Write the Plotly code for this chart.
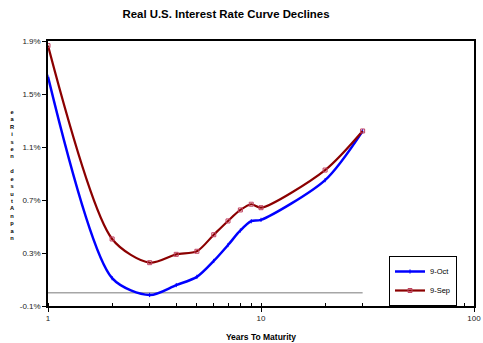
import plotly.graph_objects as go

maturities = [1, 2, 3, 4, 5, 6, 7, 8, 9, 10, 20, 30]
oct_rates = [1.63, 0.11, -0.017, 0.058, 0.12, 0.24, 0.36, 0.47, 0.54, 0.55, 0.85, 1.22]
sep_rates = [1.865, 0.406, 0.227, 0.29, 0.313, 0.438, 0.542, 0.625, 0.668, 0.642, 0.926, 1.221]
zero_x = [1, 30]
zero_y = [0, 0]
y_ticks = [-0.1, 0.3, 0.7, 1.1, 1.5, 1.9]
y_title_letters = ["e", "a", "R", "i", "s", "e", "n", " ", "d", "e", "s", "u", "t", "A", "n", "p", "a", "n"]

FONT = "Arial, Liberation Sans, sans-serif"
W, H = 483, 343
ML, MR, MT, MB = 48, 9, 41, 37
PW, PH = W - ML - MR, H - MT - MB

fig = go.Figure()
fig.add_trace(go.Scatter(x=zero_x, y=zero_y, mode="lines",
                         line=dict(color="#A6A6A6", width=1.5),
                         showlegend=False, hoverinfo="skip"))
fig.add_trace(go.Scatter(x=maturities, y=oct_rates, name="9-Oct", mode="lines+markers",
                         line=dict(color="#0000FF", width=2.5, shape="spline", smoothing=0.8),
                         marker=dict(color="#0000FF", size=3, symbol="line-ns-open",
                                     line=dict(color="#0000FF", width=1))))
fig.add_trace(go.Scatter(x=maturities, y=sep_rates, name="9-Sep", mode="lines+markers",
                         line=dict(color="#8B0000", width=2.2, shape="spline", smoothing=0.8),
                         marker=dict(color="#C04060", size=4, symbol="square-open",
                                     line=dict(color="#C04060", width=1))))

fig.update_layout(
    width=W, height=H,
    margin=dict(l=ML, r=MR, t=MT, b=MB, autoexpand=False),
    paper_bgcolor="white", plot_bgcolor="white",
    font=dict(family=FONT, size=8, color="#222222"),
    title=dict(text="<b>Real U.S. Interest Rate Curve Declines</b>",
               x=226 / W, xanchor="center", y=1 - 14 / H, yanchor="middle",
               font=dict(family=FONT, size=11.4, color="black")),
    showlegend=True,
    legend=dict(x=(389 - ML) / PW, y=(H - MB - 281) / PH, xanchor="left", yanchor="middle",
                bgcolor="white", bordercolor="black", borderwidth=1,
                font=dict(family=FONT, size=7.5, color="black"),
                tracegroupgap=0, itemwidth=30),
)

fig.update_xaxes(type="log", range=[0, 2], dtick=1, automargin=False,
                 showline=True, linecolor="black", linewidth=1.5, mirror=True,
                 showgrid=False, zeroline=False,
                 ticks="outside", ticklen=4, tickcolor="black",
                 tickfont=dict(family=FONT, size=8, color="#222222"),
                 minor=dict(ticks="inside", ticklen=3, tickcolor="black", showgrid=False, dtick="D1"),
                 title=dict(text="<b>Years To Maturity</b>", standoff=12,
                            font=dict(family=FONT, size=8.5, color="black")))
fig.update_yaxes(range=[-0.1, 1.9], tickvals=y_ticks, automargin=False,
                 ticktext=[f"{v:.1f}%" for v in y_ticks],
                 showline=True, linecolor="black", linewidth=1.5, mirror=True,
                 showgrid=False, zeroline=False,
                 ticks="outside", ticklen=4, tickcolor="black",
                 tickfont=dict(family=FONT, size=8, color="#222222"))

fig.add_annotation(text="<br>".join(f"<b>{c}</b>" if c.strip() else "&nbsp;" for c in y_title_letters),
                   xref="paper", yref="paper",
                   x=(12 - ML) / PW, y=(H - MB - 175) / PH,
                   xanchor="center", yanchor="middle", showarrow=False, align="center",
                   font=dict(family=FONT, size=5.7, color="black"))

fig.write_html("out.html")
